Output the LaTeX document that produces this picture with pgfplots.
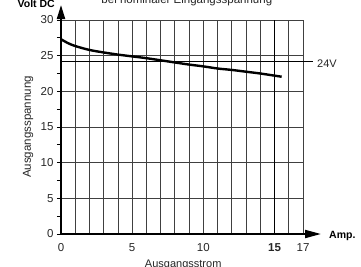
\documentclass[border=0pt]{standalone}
\usepackage{fontspec}
\setmainfont{Liberation Sans}
\usepackage{pgfplots}
\pgfplotsset{compat=1.18}
\usetikzlibrary{arrows.meta,calc}
\begin{document}
\begin{tikzpicture}
\begin{axis}[
  scale only axis, width=242pt, height=214pt,
  xmin=0, xmax=17, ymin=0, ymax=30,
  axis x line=bottom, axis y line=left,
  x axis line style={line width=2pt, -{Triangle[length=16pt,width=8pt]}, shorten >=-18pt},
  y axis line style={line width=2pt, -{Triangle[length=14pt,width=8pt]}, shorten >=-15pt},
  grid=major, major grid style={black!75, line width=0.8pt},
  xtick={0,...,17},
  xticklabels={0,,,,,5,,,,,10,,,,,\textbf{15},,17},
  x tick style={draw=none},
  ytick={0,5,...,30}, minor ytick={2.5,7.5,...,27.5},
  y tick style={black, line width=0.8pt},
  tick align=outside, major tick length=4pt, minor tick length=4pt,
  tick label style={font=\fontsize{11.5}{13}\selectfont, text=black!85},
  xticklabel style={yshift=-2pt},
  /pgf/number format/assume math mode=true,
  clip=false,
  ylabel={Ausgangsspannung}, xlabel={Ausgangsstrom},
  ylabel style={at={(axis description cs:-0.136,0.5)}, anchor=center, font=\fontsize{11.5}{13}\selectfont, text=black!85},
  xlabel style={at={(axis description cs:0.505,0)}, anchor=base, yshift=-33pt, font=\fontsize{11}{13}\selectfont, text=black!85},
]
\coordinate (O) at (rel axis cs:0,0);
\draw[black, line width=1.6pt] (axis cs:15,0) -- (axis cs:15,30);
\draw[black, line width=1pt] (axis cs:0,24.25) -- (axis cs:17.7,24.25);
\addplot[black, line width=2.4pt, smooth] coordinates {
(0,27.3) (0.5,26.75) (1,26.35) (2,25.8) (3,25.45) (4,25.15) (5,24.9) (6,24.65) (7,24.35) (8,24.05) (9,23.75) (10,23.5) (11,23.2) (12,23.0) (13,22.75) (14,22.5) (15,22.2) (15.5,22.05)};
\node[anchor=base, font=\fontsize{11.5}{13}\selectfont, text=black!85] at (rel axis cs:0.52,1) [yshift=17pt] {bei nominaler Eingangsspannung};
\node[anchor=base east, font=\fontsize{10.5}{12}\selectfont\bfseries, inner sep=0pt] at (rel axis cs:0,1) [xshift=-6pt, yshift=13pt] {Volt DC};
\node[anchor=base west, font=\fontsize{10.5}{12}\selectfont\bfseries, inner sep=0pt] at (rel axis cs:1,0) [xshift=26pt, yshift=-4pt] {Amp.};
\node[anchor=base west, font=\fontsize{11}{12}\selectfont, text=black!85, inner sep=0pt] at (axis cs:17,24.25) [xshift=14pt, yshift=-6pt] {24V};
\end{axis}
\pgfresetboundingbox
\useasboundingbox ($(O)+(-61pt,-32pt)$) rectangle ($(O)+(300pt,234pt)$);
\end{tikzpicture}
\end{document}
